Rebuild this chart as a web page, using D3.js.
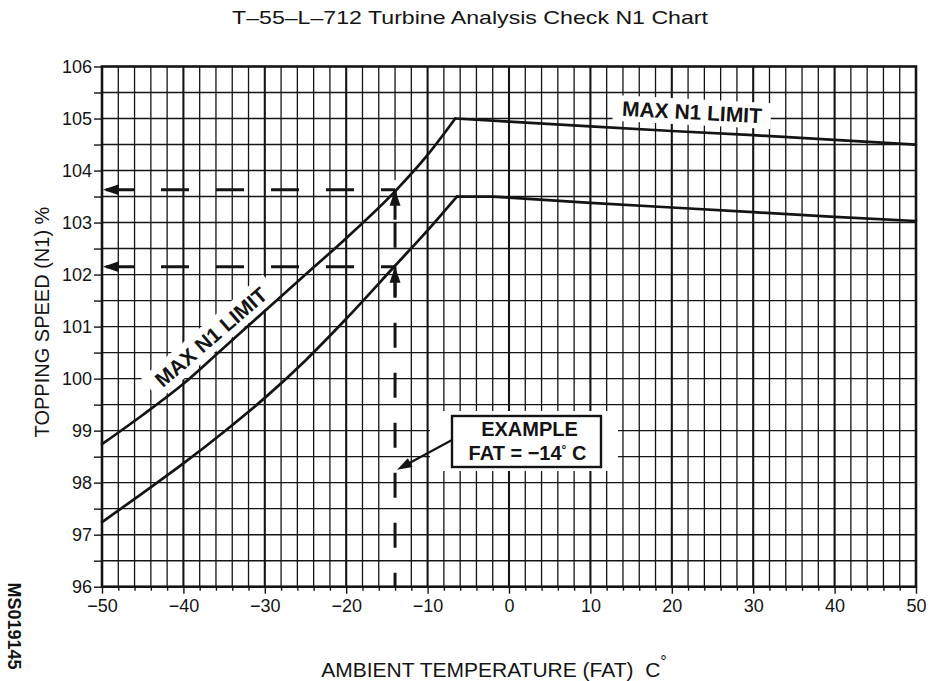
<!DOCTYPE html>
<html><head><meta charset="utf-8">
<script src="https://cdn.jsdelivr.net/npm/d3@7"></script>
<style>
html,body{margin:0;padding:0;background:#fff;}
svg{display:block;font-family:"Liberation Sans",Arial,Helvetica,sans-serif;}
</style></head>
<body>
<svg id="chart" width="937" height="681"></svg>
<script>
// ---- data ----
const upperT  = [-50, -45, -40, -35, -30, -25, -20, -14, -10, -6.6, 0, 10, 20, 30, 40, 50];
const upperN1 = [98.74, 99.3, 99.9, 100.6, 101.3, 102.0, 102.7, 103.6, 104.3, 105.0, 104.94, 104.85, 104.76, 104.68, 104.59, 104.5];
const lowerT  = [-50, -45, -40, -35, -30, -25, -20, -14, -10, -6.4, -2, 0, 10, 20, 30, 40, 50];
const lowerN1 = [97.24, 97.8, 98.37, 98.98, 99.63, 100.35, 101.15, 102.17, 102.85, 103.5, 103.5, 103.48, 103.38, 103.29, 103.2, 103.11, 103.03];
const xTickLabels = [-50, -40, -30, -20, -10, 0, 10, 20, 30, 40, 50];
const yTickLabels = [96, 97, 98, 99, 100, 101, 102, 103, 104, 105, 106];
const exampleFAT = -14;
const exampleUpper = 103.63;
const exampleLower = 102.15;

const title = "T–55–L–712 Turbine Analysis Check N1 Chart";
const xTitle = "AMBIENT TEMPERATURE (FAT)  C";
const yTitle = "TOPPING SPEED (N1) %";
const limitLabel = "MAX N1 LIMIT";
const figId = "MS019145";

// ---- layout ----
const svg = d3.select("#chart");
const x = d3.scaleLinear().domain([-50, 50]).range([102, 916]);
const y = d3.scaleLinear().domain([96, 106]).range([586.7, 66.5]);
const ink = "#141414";

const grid = svg.append("g");
grid.selectAll("line.v").data(d3.range(-48, 50, 2)).join("line")
  .attr("x1", d => x(d)).attr("x2", d => x(d))
  .attr("y1", y(96)).attr("y2", y(106))
  .attr("stroke", ink)
  .attr("stroke-width", d => d % 10 === 0 ? 2.1 : 1.3);
grid.append("line")
  .attr("x1", x(exampleFAT)).attr("x2", x(exampleFAT))
  .attr("y1", y(96) - 1).attr("y2", y(103.82))
  .attr("stroke", "#fff").attr("stroke-width", 3.5);
grid.selectAll("line.h").data(d3.range(96.5, 106, 0.5)).join("line")
  .attr("x1", x(-50)).attr("x2", x(50))
  .attr("y1", d => y(d)).attr("y2", d => y(d))
  .attr("stroke", ink).attr("stroke-width", 1.4);

svg.append("rect")
  .attr("x", 430).attr("y", 411).attr("width", 188).attr("height", 60)
  .attr("fill", "#fff");

// axes
const yAxis = d3.axisLeft(y)
  .tickValues(d3.range(96, 106.01, 0.5))
  .tickFormat(d => yTickLabels.includes(d) ? d : "")
  .tickSize(8).tickPadding(2);
const gy = svg.append("g").attr("transform", `translate(${x(-50)},0)`).call(yAxis);
gy.select(".domain").remove();
gy.selectAll(".tick line").attr("stroke", ink).attr("stroke-width", 1.4);
gy.selectAll(".tick text").attr("fill", ink).attr("font-size", 18)
  .attr("font-family", "'Liberation Sans',Arial,sans-serif");

const xAxis = d3.axisBottom(x)
  .tickValues(d3.range(-50, 50.01, 2))
  .tickFormat(d => xTickLabels.includes(d) ? d3.format("")(d) : "")
  .tickSize(4).tickPadding(9);
const gx = svg.append("g").attr("transform", `translate(0,${y(96)})`).call(xAxis);
gx.select(".domain").remove();
gx.selectAll(".tick line").attr("stroke", ink).attr("stroke-width", 1.4)
  .attr("y2", d => d % 10 === 0 ? 7 : 4);
gx.selectAll(".tick text").attr("fill", ink).attr("font-size", 18)
  .attr("font-family", "'Liberation Sans',Arial,sans-serif");

svg.append("rect")
  .attr("x", x(-50)).attr("y", y(106))
  .attr("width", x(50) - x(-50)).attr("height", y(96) - y(106))
  .attr("fill", "none").attr("stroke", ink).attr("stroke-width", 2.6);

// MAX N1 LIMIT labels (with white masks)
function limitText(cx, cy, rot, w, h) {
  const g = svg.append("g").attr("transform", `translate(${cx},${cy}) rotate(${rot})`);
  g.append("rect").attr("x", -w / 2).attr("y", -h / 2).attr("width", w).attr("height", h).attr("fill", "#fff");
  g.append("text").attr("text-anchor", "middle").attr("y", 7.5)
    .attr("font-weight", "bold").attr("font-size", 21).attr("fill", ink)
    .text(limitLabel);
}
limitText(692, 112, 3, 158, 26);
limitText(211, 337, -40.7, 160, 28);

// curves: smooth rising branch, straight falling branch
function drawCurve(T, V) {
  const pts = T.map((t, i) => [t, V[i]]);
  const k = V.indexOf(d3.max(V));
  const rise = d3.line().x(d => x(d[0])).y(d => y(d[1])).curve(d3.curveMonotoneX);
  const fall = d3.line().x(d => x(d[0])).y(d => y(d[1])).curve(d3.curveLinear);
  const g = svg.append("g").attr("fill", "none").attr("stroke", ink)
    .attr("stroke-width", 2.7).attr("stroke-linejoin", "miter").attr("stroke-linecap", "round");
  g.append("path").attr("d", rise(pts.slice(0, k + 1)));
  g.append("path").attr("d", fall(pts.slice(k)));
}
drawCurve(upperT, upperN1);
drawCurve(lowerT, lowerN1);

// example dashed lines
const dashG = svg.append("g");
[exampleUpper, exampleLower].forEach(v => {
  dashG.append("line")
    .attr("x1", x(-50) + 4).attr("x2", x(exampleFAT))
    .attr("y1", y(v)).attr("y2", y(v))
    .attr("stroke", ink).attr("stroke-width", 3)
    .attr("stroke-dasharray", "28 27");
  const ax = x(-50) + 1, ay = y(v);
  dashG.append("path")
    .attr("d", `M${ax},${ay} L${ax + 16},${ay - 5.5} L${ax + 16},${ay + 5.5} Z`)
    .attr("fill", ink);
});
const vx = x(exampleFAT);
dashG.append("line")
  .attr("x1", vx).attr("x2", vx)
  .attr("y1", y(96)).attr("y2", y(exampleUpper))
  .attr("stroke", ink).attr("stroke-width", 3)
  .attr("stroke-dasharray", "25 25").attr("stroke-dashoffset", 11);
[exampleUpper, exampleLower].forEach(v => {
  const ty = y(v);
  dashG.append("path")
    .attr("d", `M${vx},${ty} L${vx - 5.5},${ty + 16} L${vx + 5.5},${ty + 16} Z`)
    .attr("fill", ink);
  dashG.append("line")
    .attr("x1", vx).attr("x2", vx).attr("y1", ty).attr("y2", ty + 30)
    .attr("stroke", ink).attr("stroke-width", 3);
});

// EXAMPLE box
const bx = 452, by = 416, bw = 149, bh = 51;
svg.append("rect").attr("x", bx).attr("y", by).attr("width", bw).attr("height", bh)
  .attr("fill", "#fff").attr("stroke", ink).attr("stroke-width", 2.4);
svg.append("text").attr("text-anchor", "middle")
  .attr("font-weight", "bold").attr("font-size", 20).attr("fill", ink)
  .attr("x", bx + bw / 2 + 3).attr("y", by + 20).text("EXAMPLE");
const l2 = svg.append("text").attr("text-anchor", "middle")
  .attr("font-weight", "bold").attr("font-size", 20).attr("fill", ink)
  .attr("x", bx + bw / 2 + 1).attr("y", by + 44);
l2.append("tspan").text("FAT = −14");
l2.append("tspan").attr("font-size", 12).attr("dy", -6).text("°");
l2.append("tspan").attr("dy", 6).text(" C");
const p0 = [bx, by + 24], p1 = [vx + 2, y(98.25)];
const ang = Math.atan2(p1[1] - p0[1], p1[0] - p0[0]);
const hl = 15, hw = 5;
svg.append("line").attr("x1", p0[0]).attr("y1", p0[1])
  .attr("x2", p1[0] - Math.cos(ang) * hl * 0.8).attr("y2", p1[1] - Math.sin(ang) * hl * 0.8)
  .attr("stroke", ink).attr("stroke-width", 2.2);
svg.append("path").attr("d", () => {
  const bxp = p1[0] - Math.cos(ang) * hl, byp = p1[1] - Math.sin(ang) * hl;
  const nx = -Math.sin(ang) * hw, ny = Math.cos(ang) * hw;
  return `M${p1[0]},${p1[1]} L${bxp + nx},${byp + ny} L${bxp - nx},${byp - ny} Z`;
}).attr("fill", ink);

// titles
svg.append("text").attr("x", 470).attr("y", 24).attr("text-anchor", "middle")
  .attr("font-size", 19).attr("textLength", 476).attr("lengthAdjust", "spacingAndGlyphs")
  .attr("fill", ink).text(title);
const xt = svg.append("text").attr("x", 494).attr("y", 677).attr("text-anchor", "middle")
  .attr("font-size", 21).attr("fill", ink).attr("xml:space", "preserve").style("white-space", "pre");
xt.text(xTitle);
xt.append("tspan").attr("font-size", 16).attr("dy", -10).text("°");
svg.append("text").attr("transform", `translate(49,322) rotate(-90)`)
  .attr("text-anchor", "middle").attr("font-size", 20).attr("fill", ink).text(yTitle);
svg.append("text").attr("transform", `translate(8,626) rotate(90)`)
  .attr("text-anchor", "middle").attr("font-size", 18).attr("font-weight", "bold")
  .attr("fill", ink).text(figId);
</script>
</body></html>
